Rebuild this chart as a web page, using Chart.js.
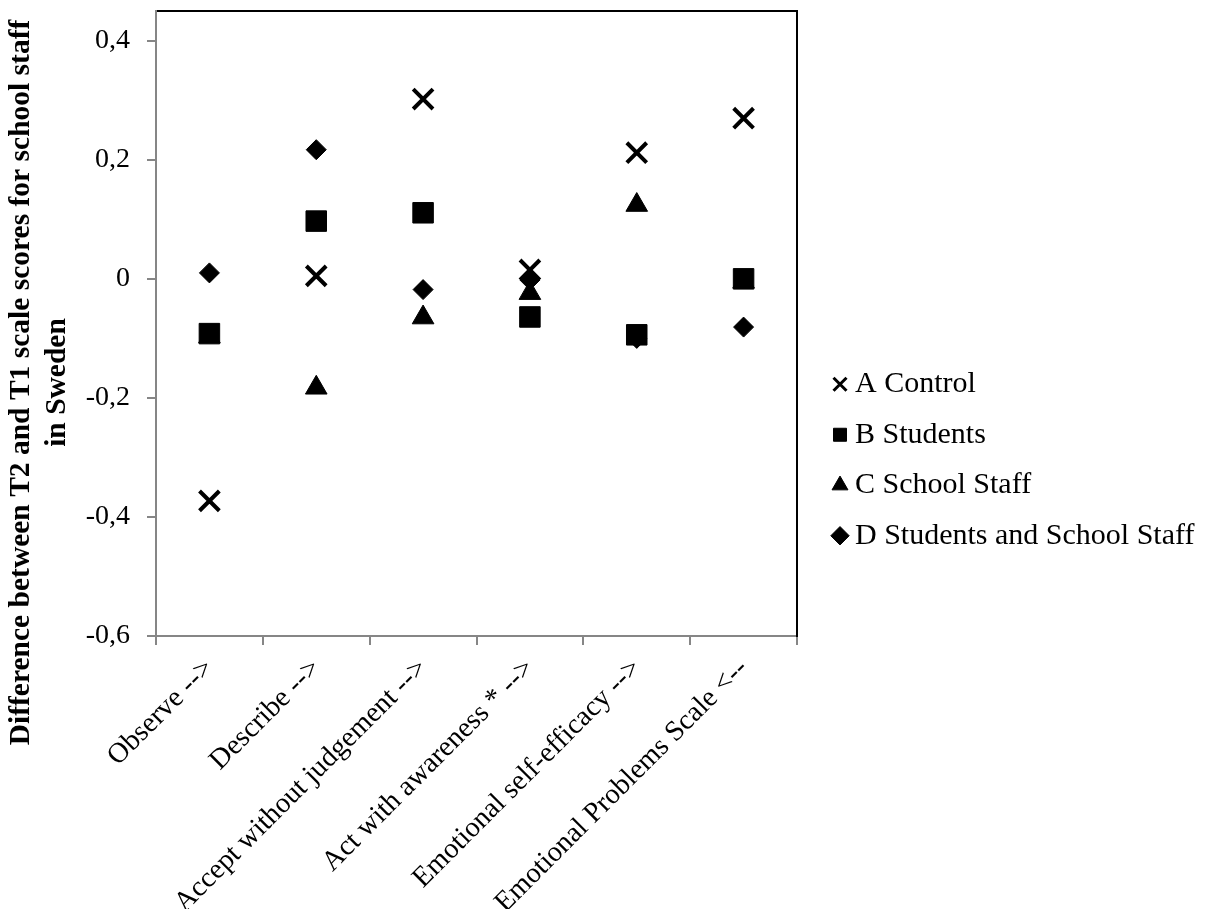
<!DOCTYPE html>
<html>
<head>
<meta charset="utf-8">
<script src="https://cdn.jsdelivr.net/npm/chart.js@4.4.1/dist/chart.umd.min.js"></script>
<style>
  html, body { margin: 0; padding: 0; background: #fff; }
</style>
</head>
<body>
<canvas id="grafico" width="1205" height="909"></canvas>
<script>
const categorias = ['Observe -->', 'Describe -->', 'Accept without judgement -->', 'Act with awareness * -->', 'Emotional self-efficacy -->', 'Emotional Problems Scale <--'];
const controleA = [-0.373, 0.005, 0.302, 0.015, 0.212, 0.27];
const estudantesB = [-0.092, 0.097, 0.111, -0.064, -0.094, 0.0];
const equipeC = [-0.097, -0.183, -0.065, -0.024, 0.124, -0.005];
const ambosD = [0.01, 0.217, -0.018, -0.002, -0.1, -0.081];
const ticksY = [-0.6, -0.4, -0.2, 0, 0.2, 0.4];

const serif = "'Liberation Serif', 'Times New Roman', serif";
Chart.defaults.font.family = serif;
Chart.defaults.color = '#000';

const cinza = '#868686';
const formatar = v => Math.abs(v) < 1e-9 ? '0' : v.toFixed(1).replace('.', ',');

// legenda larga: o layout limita a largura das caixas verticais
const legendaLarga = {
    id: 'legendaLarga',
    beforeLayout(chart) {
        const lg = chart.legend;
        if (!lg || lg._larga) return;
        const fitOriginal = lg.fit.bind(lg);
        lg.fit = function () {
            fitOriginal();
            this.width = 385.5;
        };
        lg._larga = true;
    }
};

const grafico = new Chart(document.getElementById('grafico'), {
    type: 'line',
    data: {
        labels: categorias,
        datasets: [
            { label: 'A Control', data: controleA, pointStyle: 'crossRot', pointRadius: 14, borderWidth: 4 },
            { label: 'B Students', data: estudantesB, pointStyle: 'rect', pointRadius: 14.5, borderWidth: 1 },
            { label: 'C School Staff', data: equipeC, pointStyle: 'triangle', pointRadius: 12.5, borderWidth: 1 },
            { label: 'D Students and School Staff', data: ambosD, pointStyle: 'rectRot', pointRadius: 10, borderWidth: 1 }
        ].map(d => ({ ...d, showLine: false, borderColor: '#000', backgroundColor: '#000', pointHoverRadius: d.pointRadius }))
    },
    options: {
        responsive: false,
        animation: false,
        layout: { autoPadding: false, padding: { top: 11, right: 0, left: 0, bottom: 0 } },
        plugins: {
            tooltip: { enabled: false },
            legend: {
                position: 'right',
                labels: {
                    usePointStyle: true,
                    boxWidth: 0.01,
                    boxHeight: 13,
                    padding: 20.5,
                    color: '#000',
                    font: { size: 30 },
                    generateLabels(chart) {
                        const itens = Chart.defaults.plugins.legend.labels.generateLabels(chart);
                        itens.forEach(i => { i.lineWidth = i.datasetIndex === 0 ? 3 : 1; });
                        return itens;
                    }
                }
            }
        },
        scales: {
            x: {
                offset: true,
                afterFit: s => { s.height = 273; },
                grid: { offset: true, drawOnChartArea: false, color: cinza, tickLength: 9, lineWidth: 2 },
                border: { color: cinza, width: 2 },
                ticks: { maxRotation: 45, minRotation: 45, padding: 7, font: { size: 28.5 } }
            },
            x2: {
                type: 'category',
                position: 'top',
                labels: categorias,
                offset: true,
                afterFit: s => { s.height = 0; s.paddingLeft = 0; s.paddingRight = 0; },
                grid: { display: false },
                ticks: { display: false },
                border: { color: '#000', width: 2 }
            },
            y: {
                min: -0.6,
                max: 0.45,
                afterBuildTicks: s => { s.ticks = ticksY.map(v => ({ value: v })); },
                afterFit: s => { s.width = 156; s.paddingTop = 0; s.paddingBottom = 0; },
                grid: { drawOnChartArea: false, color: cinza, tickLength: 9, lineWidth: 2 },
                border: { color: cinza, width: 2 },
                ticks: { callback: formatar, padding: 17, font: { size: 28 } },
                title: {
                    display: true,
                    text: ['Difference between T2 and T1 scale scores for school staff                ', 'in Sweden                '],
                    font: { size: 29.5, weight: 'bold', lineHeight: 1.22 },
                    padding: { top: 3, bottom: 0 }
                }
            },
            y2: {
                type: 'linear',
                position: 'right',
                min: -0.6,
                max: 0.45,
                afterFit: s => { s.width = 22.5; s.paddingTop = 0; s.paddingBottom = 0; },
                grid: { display: false },
                ticks: { display: false },
                border: { color: '#000', width: 2 }
            }
        }
    },
    plugins: [legendaLarga]
});
</script>
</body>
</html>
